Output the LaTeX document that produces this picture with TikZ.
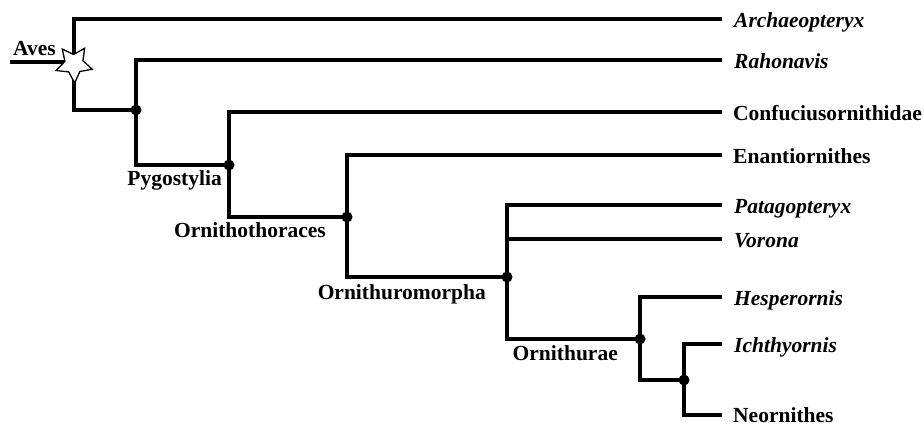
\documentclass[tikz,border=0pt]{standalone}
\usepackage{fontspec}
\setmainfont{Liberation Serif}
\usetikzlibrary{shapes.geometric}

\tikzset{
  branch/.style={line width=3.2pt, line cap=rect, line join=miter},
  dot/.style={circle, fill=black, inner sep=0pt, minimum size=11pt},
  leafname/.style={anchor=base west, inner sep=0pt,
    font=\fontsize{21.5}{24}\selectfont\bfseries},
  genus/.style={leafname, font=\fontsize{21.5}{24}\selectfont\bfseries\itshape},
  cladename/.style={anchor=base east, inner sep=0pt,
    font=\fontsize{21.5}{24}\selectfont\bfseries},
  avesstar/.style={star, star points=5, star point ratio=2.0,
    shape border rotate=182, minimum size=38pt, inner sep=0pt,
    draw, fill=white, line width=1.3pt}
}

\begin{document}
\begin{tikzpicture}[x=1pt, y=-1pt]
  \useasboundingbox (0,0) rectangle (924,426);

  % junctions
  \coordinate (n0) at (74,64);
  \coordinate (n1) at (136,110);
  \coordinate (n2) at (229,165);
  \coordinate (n3) at (347,217);
  \coordinate (n4) at (507,277);
  \coordinate (n5) at (640,339);
  \coordinate (n6) at (684,380);
  \coordinate (avesin) at (12,62);

  % tip ends
  \coordinate (eA) at (720,19);
  \coordinate (eR) at (720,60);
  \coordinate (eC) at (720,112);
  \coordinate (eE) at (720,155);
  \coordinate (eP) at (720,205);
  \coordinate (eV) at (720,239);
  \coordinate (eH) at (720,297);
  \coordinate (eI) at (720,344);
  \coordinate (eN) at (720,415);
  \coordinate (fV) at (507,239);

  % branches
  \draw[branch] (avesin) -- (avesin -| n0);
  \draw[branch] (eA) -| (n0) |- (n1);
  \draw[branch] (eR) -| (n1) |- (n2);
  \draw[branch] (eC) -| (n2) |- (n3);
  \draw[branch] (eE) -| (n3) |- (n4);
  \draw[branch] (eP) -| (n4) |- (n5);
  \draw[branch] (fV) -- (eV);
  \draw[branch] (eH) -| (n5) |- (n6);
  \draw[branch] (eI) -| (n6) |- (eN);

  % node markers
  \node[avesstar] (star) at (n0) {};
  \node[dot] (d1) at (n1) {};
  \node[dot] (d2) at (n2) {};
  \node[dot] (d3) at (n3) {};
  \node[dot] (d4) at (n4) {};
  \node[dot] (d5) at (n5) {};
  \node[dot] (d6) at (n6) {};

  % clade names
  \node[leafname] (lAves) at (13,55) {Aves};
  \node[cladename] (lPyg) at ([xshift=-7pt,yshift=-20pt]n2) {Pygostylia};
  \node[cladename] (lOrnth) at ([xshift=-21pt,yshift=-20pt]n3) {Ornithothoraces};
  \node[cladename] (lOrnm) at ([xshift=-21pt,yshift=-22pt]n4) {Ornithuromorpha};
  \node[cladename] (lOrnu) at ([xshift=-22pt,yshift=-21pt]n5) {Ornithurae};

  % tip names
  \node[genus]    (tA) at ([xshift=14pt,yshift=-8pt]eA) {Archaeopteryx};
  \node[genus]    (tR) at ([xshift=14pt,yshift=-8pt]eR) {Rahonavis};
  \node[leafname] (tC) at ([xshift=13pt,yshift=-8pt]eC) {Confuciusornithidae};
  \node[leafname] (tE) at ([xshift=13pt,yshift=-8pt]eE) {Enantiornithes};
  \node[genus]    (tP) at ([xshift=14pt,yshift=-8pt]eP) {Patagopteryx};
  \node[genus]    (tV) at ([xshift=14pt,yshift=-8pt]eV) {Vorona};
  \node[genus]    (tH) at ([xshift=14pt,yshift=-8pt]eH) {Hesperornis};
  \node[genus]    (tI) at ([xshift=14pt,yshift=-8pt]eI) {Ichthyornis};
  \node[leafname] (tN) at ([xshift=13pt,yshift=-7pt]eN) {Neornithes};
\end{tikzpicture}
\end{document}
